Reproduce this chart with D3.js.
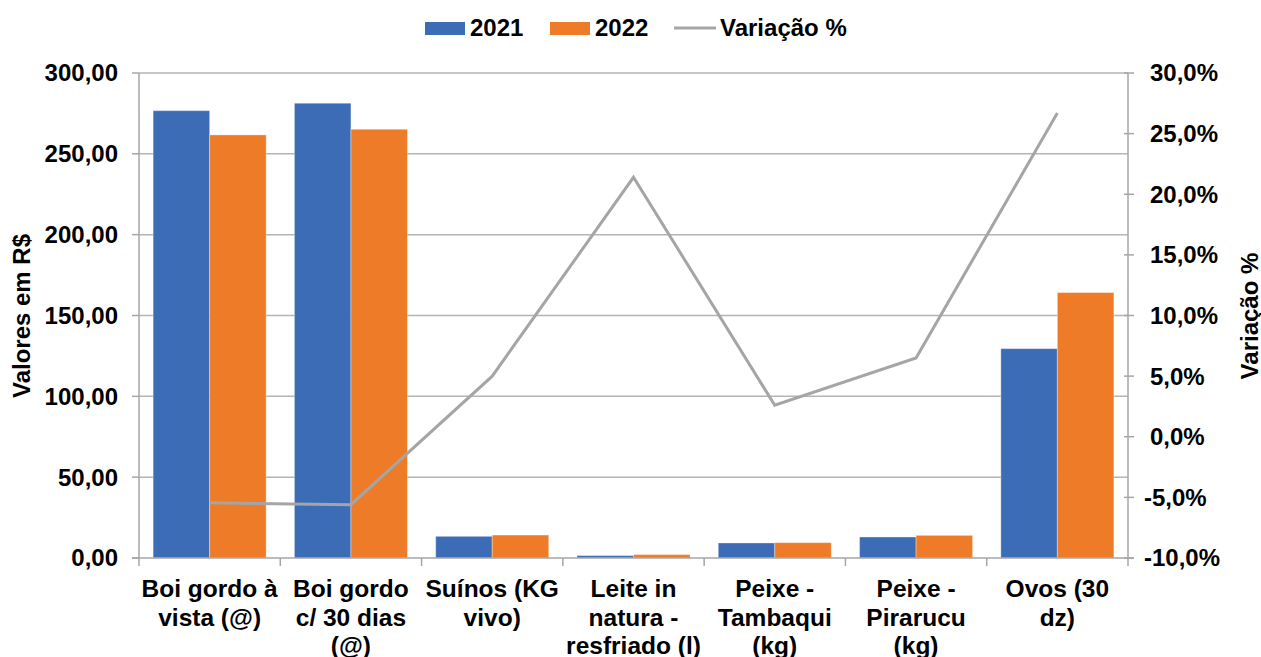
<!DOCTYPE html>
<html>
<head>
<meta charset="utf-8">
<script src="https://cdn.jsdelivr.net/npm/d3@7"></script>
<style>
  body { margin: 0; background: #fff; }
  text { font-family: "Liberation Sans", Arial, sans-serif; font-weight: bold; fill: #000; }
</style>
</head>
<body>
<script>
var width = 1261;
var height = 657;

// data
var categories = ["Boi gordo à vista (@)", "Boi gordo c/ 30 dias (@)", "Suínos (KG vivo)",
  "Leite in natura - resfriado (l)", "Peixe - Tambaqui (kg)", "Peixe - Pirarucu (kg)", "Ovos (30 dz)"];
var categoryLines = [
  ["Boi gordo à", "vista (@)"],
  ["Boi gordo", "c/ 30 dias", "(@)"],
  ["Suínos (KG", "vivo)"],
  ["Leite in", "natura -", "resfriado (l)"],
  ["Peixe -", "Tambaqui", "(kg)"],
  ["Peixe -", "Pirarucu", "(kg)"],
  ["Ovos (30", "dz)"]
];
var seriesNames = ["2021", "2022"];
var values2021 = [276.7, 281.3, 13.4, 1.5, 9.3, 13.0, 129.5];
var values2022 = [261.7, 265.2, 14.2, 2.1, 9.5, 14.0, 164.2];
var variacao = [-5.45, -5.6, 5.0, 21.4, 2.6, 6.5, 26.7];
var leftTicks = [0, 50, 100, 150, 200, 250, 300];
var rightTicks = [-10, -5, 0, 5, 10, 15, 20, 25, 30];
var colors = ["#3b6cb5", "#ee7b27"];
var lineColor = "#a5a5a5";

var mLeft = 139, mRight = 1128, mTop = 73, mBottom = 558;

var svg = d3.select("body").append("svg")
  .attr("width", width)
  .attr("height", height);

var x = d3.scaleBand()
  .domain(categories)
  .range([mLeft, mRight])
  .paddingInner(0.2)
  .paddingOuter(0.1);

var xs = d3.scaleBand()
  .domain(seriesNames)
  .range([0, x.bandwidth()]);

var y = d3.scaleLinear().domain([0, 300]).range([mBottom, mTop]);
var y2 = d3.scaleLinear().domain([-10, 30]).range([mBottom, mTop]);

// gridlines
svg.append("g")
  .selectAll("line")
  .data(leftTicks.filter(function(d) { return d > 0; }))
  .enter().append("line")
  .attr("x1", mLeft)
  .attr("x2", mRight)
  .attr("y1", function(d) { return y(d); })
  .attr("y2", function(d) { return y(d); })
  .style("stroke", "#b4b4b4")
  .style("stroke-width", 1.5);

// bars
var rows = categories.map(function(c, i) {
  return { cat: c, vals: [values2021[i], values2022[i]] };
});

svg.append("g")
  .selectAll("g")
  .data(rows)
  .enter().append("g")
  .attr("transform", function(d) { return "translate(" + x(d.cat) + ",0)"; })
  .selectAll("rect")
  .data(function(d) { return d.vals.map(function(v, j) { return { s: seriesNames[j], v: v, j: j }; }); })
  .enter().append("rect")
  .attr("x", function(d) { return xs(d.s); })
  .attr("width", xs.bandwidth())
  .attr("y", function(d) { return y(d.v); })
  .attr("height", function(d) { return y(0) - y(d.v); })
  .style("fill", function(d) { return colors[d.j]; })
  .style("stroke", "rgba(255,255,255,0.35)")
  .style("stroke-width", 1);

// axes lines
var axisColor = "#a6a6a6";
svg.append("line")
  .attr("x1", mLeft).attr("x2", mLeft).attr("y1", mTop).attr("y2", mBottom)
  .style("stroke", axisColor).style("stroke-width", 1.5);
svg.append("line")
  .attr("x1", mRight).attr("x2", mRight).attr("y1", mTop).attr("y2", mBottom)
  .style("stroke", axisColor).style("stroke-width", 1.5);
svg.append("line")
  .attr("x1", mLeft - 7).attr("x2", mRight + 6).attr("y1", mBottom).attr("y2", mBottom)
  .style("stroke", axisColor).style("stroke-width", 1.5);

// left ticks
var gl = svg.append("g");
gl.selectAll("line")
  .data(leftTicks)
  .enter().append("line")
  .attr("x1", mLeft - 7).attr("x2", mLeft)
  .attr("y1", function(d) { return y(d); })
  .attr("y2", function(d) { return y(d); })
  .style("stroke", axisColor).style("stroke-width", 1.5);
gl.selectAll("text")
  .data(leftTicks)
  .enter().append("text")
  .attr("x", 118)
  .attr("y", function(d) { return y(d); })
  .attr("dy", "0.35em")
  .attr("text-anchor", "end")
  .style("font-size", "24px")
  .text(function(d) { return d3.format(".2f")(d).replace(".", ","); });

// right ticks
var gr = svg.append("g");
gr.selectAll("line")
  .data(rightTicks)
  .enter().append("line")
  .attr("x1", mRight - 4).attr("x2", mRight + 6)
  .attr("y1", function(d) { return y2(d); })
  .attr("y2", function(d) { return y2(d); })
  .style("stroke", axisColor).style("stroke-width", 1.5);
gr.selectAll("text")
  .data(rightTicks)
  .enter().append("text")
  .attr("x", function(d) { return d < 0 ? 1144 : 1150; })
  .attr("y", function(d) { return y2(d); })
  .attr("dy", "0.35em")
  .style("font-size", "24px")
  .text(function(d) { return d3.format(".1f")(d).replace(".", ",").replace("−", "-") + "%"; });

// category ticks + labels
var bounds = d3.range(categories.length + 1).map(function(i) { return mLeft + i * x.step(); });
svg.append("g")
  .selectAll("line")
  .data(bounds)
  .enter().append("line")
  .attr("x1", function(d) { return d; }).attr("x2", function(d) { return d; })
  .attr("y1", mBottom).attr("y2", mBottom + 8)
  .style("stroke", axisColor).style("stroke-width", 1.5);

svg.append("g")
  .selectAll("text")
  .data(categories)
  .enter().append("text")
  .attr("text-anchor", "middle")
  .attr("x", function(d) { return x(d) + x.bandwidth() / 2; })
  .attr("y", 597)
  .style("font-size", "24.5px")
  .each(function(d, i) {
    var t = d3.select(this);
    categoryLines[i].forEach(function(line, k) {
      t.append("tspan")
        .attr("x", x(d) + x.bandwidth() / 2)
        .attr("dy", k === 0 ? 0 : 28.5)
        .text(line);
    });
  });

// line series
var line = d3.line()
  .x(function(d, i) { return x(categories[i]) + x.bandwidth() / 2; })
  .y(function(d) { return y2(d); });

svg.append("path")
  .datum(variacao)
  .attr("d", line)
  .style("fill", "none")
  .style("stroke", lineColor)
  .style("stroke-width", 3);

// axis titles
svg.append("text")
  .attr("transform", "translate(30,316) rotate(-90)")
  .attr("text-anchor", "middle")
  .style("font-size", "24px")
  .text("Valores em R$");

svg.append("text")
  .attr("transform", "translate(1258,316) rotate(-90)")
  .attr("text-anchor", "middle")
  .style("font-size", "24px")
  .text("Variação %");

// legend
var legend = svg.append("g");
var legendItems = [
  { name: "2021", type: "rect", color: colors[0], x: 425 },
  { name: "2022", type: "rect", color: colors[1], x: 550 },
  { name: "Variação %", type: "line", color: lineColor, x: 674 }
];
legendItems.forEach(function(it) {
  if (it.type === "rect") {
    legend.append("rect")
      .attr("x", it.x).attr("y", 22)
      .attr("width", 40).attr("height", 13)
      .style("fill", it.color);
  } else {
    legend.append("line")
      .attr("x1", it.x).attr("x2", it.x + 42)
      .attr("y1", 28).attr("y2", 28)
      .style("stroke", it.color).style("stroke-width", 3);
  }
  legend.append("text")
    .attr("x", it.x + (it.type === "rect" ? 45 : 46))
    .attr("y", 28)
    .attr("dy", "0.35em")
    .style("font-size", "24px")
    .text(it.name);
});
</script>
</body>
</html>
